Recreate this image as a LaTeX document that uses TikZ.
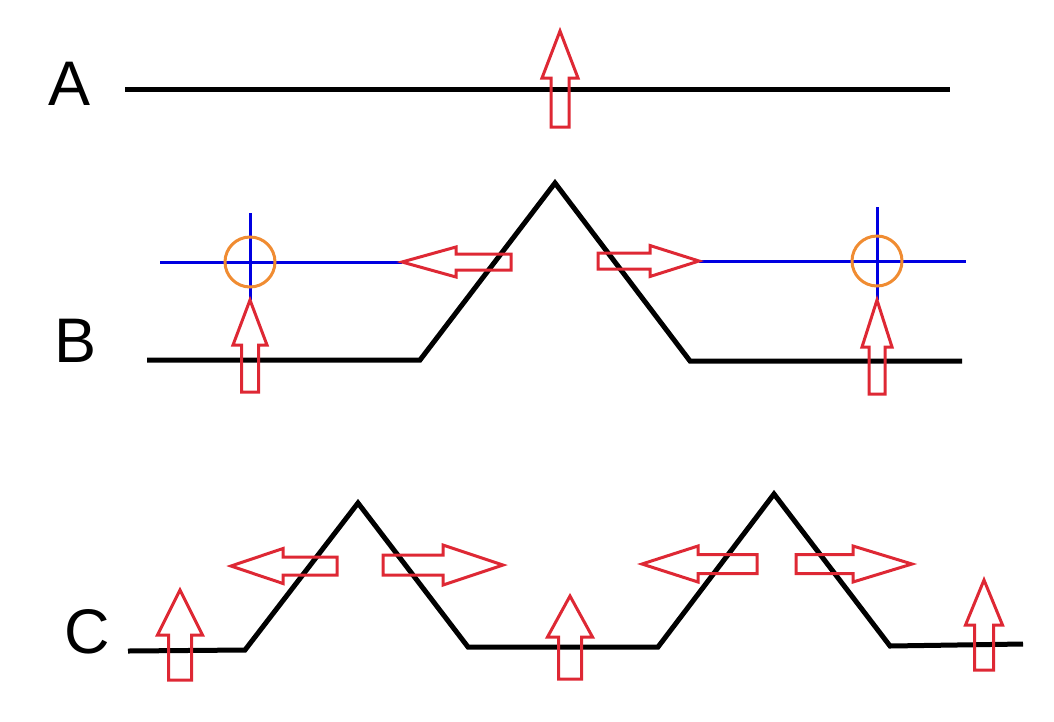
\documentclass[tikz,border=0pt]{standalone}
\usepackage{fontspec}
\setmainfont{Liberation Sans}
\usepackage{tikz}
\definecolor{pushred}{RGB}{222,40,52}
\definecolor{guideblue}{RGB}{0,0,225}
\definecolor{ringorange}{RGB}{240,140,50}
\tikzstyle{tag} = [inner sep=0pt, anchor=base, font=\fontsize{63}{63}\selectfont]
\tikzstyle{profile} = [line width=5pt, black, line join=miter]
\tikzstyle{guide} = [line width=3pt, guideblue]
\tikzstyle{ring} = [line width=3pt, ringorange]
\tikzstyle{push} = [line width=3pt, pushred, line join=miter]
% hollow arrow pointing up: x, tip, head base, bottom, half head, half shaft
\newcommand{\pushup}[6]{\draw[push] ({#1-#6},#4) -- ({#1-#6},#3) -- ({#1-#5},#3) -- (#1,#2) -- ({#1+#5},#3) -- ({#1+#6},#3) -- ({#1+#6},#4) -- cycle;}
% hollow arrow pointing sideways: tip, head base, end, y, half head, half shaft
\newcommand{\pushside}[6]{\draw[push] (#3,{#4-#6}) -- (#2,{#4-#6}) -- (#2,{#4-#5}) -- (#1,#4) -- (#2,{#4+#5}) -- (#2,{#4+#6}) -- (#3,{#4+#6}) -- cycle;}
\begin{document}
\begin{tikzpicture}[x=1pt,y=-1pt]
  \useasboundingbox (0,0) rectangle (1054,721);
  % A
  \node[tag] (A) at (69.5,105) {A};
  \draw[profile] (125,89) -- (950,89);
  \pushup{560}{31}{78}{127}{18}{9}
  % B
  \node[tag] (B) at (75.5,362) {B};
  \draw[profile] (147,360) -- (420,360) -- (555,183) -- (690,361) -- (962,361);
  \draw[guide] (160,262) -- (402,262) (250,213) -- (250,300);
  \draw[guide] (699,261) -- (966,261) (877,207) -- (877,300);
  \draw[ring] (250,262) circle (25);
  \draw[ring] (877,261) circle (25);
  \pushup{250}{300}{345}{392}{17}{8.5}
  \pushup{877}{300}{347}{394}{15}{8}
  \pushside{402}{456}{511}{262}{15}{8}
  \pushside{699}{650}{598}{261}{15.5}{8}
  % C
  \node[tag] (C) at (87.5,653) {C};
  \draw[profile] (128,651) -- (245,650) -- (358,503) -- (468,647) -- (658,647) -- (774,494) -- (890,646) -- (1023,644);
  \pushup{180}{590}{635}{680}{22.5}{11.5}
  \pushup{570}{596}{637}{679}{22.5}{11.5}
  \pushup{984}{580}{625}{670}{18.5}{9.5}
  \pushside{231}{283}{337}{566}{17.5}{9}
  \pushside{503}{443}{383}{565}{20}{10}
  \pushside{642}{698}{757}{564}{18}{9.5}
  \pushside{912}{853}{796}{564}{18}{9.5}
\end{tikzpicture}
\end{document}
